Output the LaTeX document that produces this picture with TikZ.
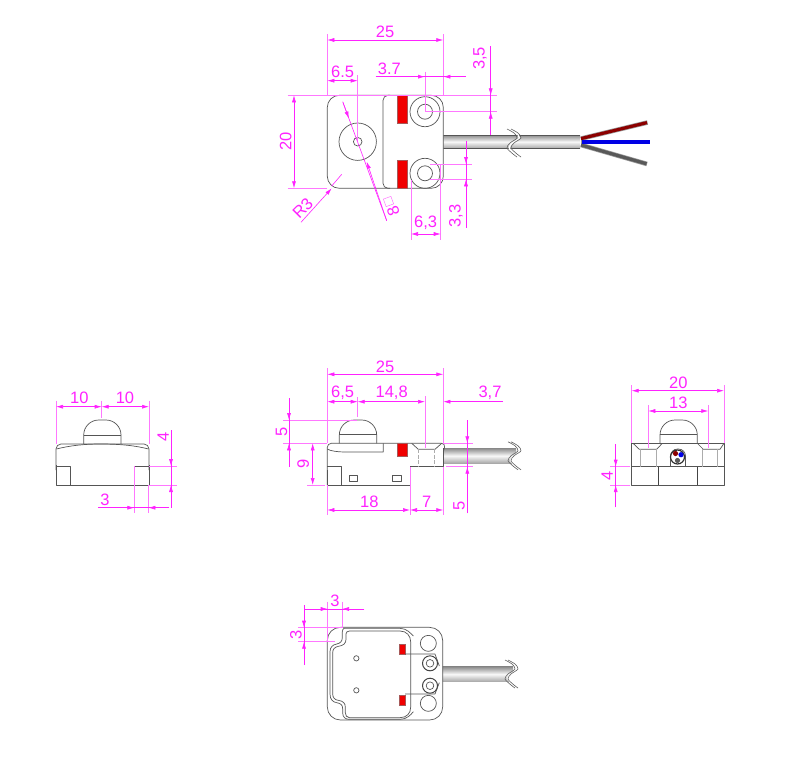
\documentclass[tikz,border=0pt]{standalone}
\usepackage{fontspec}
\setmainfont{Liberation Sans}
\usetikzlibrary{arrows.meta}
\definecolor{dimc}{HTML}{FF22FF}
\definecolor{extc}{HTML}{FF77FF}
\definecolor{outl}{HTML}{555555}
\definecolor{partred}{HTML}{F00000}
\tikzset{
  body/.style={draw=outl,line width=0.7pt,line join=round},
  thick body/.style={draw=outl!80!black,line width=1pt},
  faint/.style={draw=gray!65,line width=0.7pt},
  redpart/.style={fill=partred,draw=gray!70!red,line width=0.4pt},
  ext/.style={draw=extc,line width=0.6pt},
  dimboth/.style={draw=dimc,line width=0.6pt,{Latex[length=7pt,width=4pt]}-{Latex[length=7pt,width=4pt]}},
  dimto/.style={draw=dimc,line width=0.6pt,-{Latex[length=7pt,width=4pt]}},
  dtxt/.style={text=dimc,font=\fontsize{16.5}{18}\selectfont,inner sep=0pt},
  wire/.style={line width=4.6pt,line cap=butt,draw=gray!80},
  wirecore/.style={line width=3.2pt,line cap=butt},
  cable/.style={top color=gray!90,bottom color=gray!70,middle color=white!95!gray,shading angle=0},
}
\newcommand{\cablebreak}[2]{%
  \begin{scope}[shift={(#1,#2)}]
    \fill[white] plot[smooth] coordinates {(-4,-14)(3,-10)(6,-5)(-1,0)(-4,5)(2,11)(6,14)} -- (16,14) -- (16,-14) -- cycle;
    \draw[gray!75!black,line width=0.6pt] plot[smooth] coordinates {(-6,-14)(1,-10)(4,-5)(-3,0)(-6,5)(0,11)(4,14)};
    \draw[gray!75!black,line width=0.6pt] plot[smooth] coordinates {(-3,-14)(4,-10)(7,-5)(0,0)(-3,5)(3,11)(7,14)};
  \end{scope}}
\begin{document}
\begin{tikzpicture}[x=1pt,y=-1pt]
\useasboundingbox (0,0) rectangle (790,761);
\fill[white] (0,0) rectangle (790,761);

%% ===== TOP VIEW =====
\shade[cable] (443,135) rectangle (580,148.5);
\draw[outl,line width=0.4pt] (443,135) -- (580,135) (443,148.5) -- (580,148.5);
\fill[white] plot[smooth] coordinates {(508.5,129)(515.5,133)(518.5,138)(511.5,143)(508.5,148)(514.5,154)(518.5,157)} -- plot[smooth] coordinates {(520,157)(516,154)(510,148)(513,143)(520,138)(517,133)(510,129)} -- cycle;
\draw[gray!75!black,line width=0.6pt] plot[smooth] coordinates {(507,129)(514,133)(517,138)(510,143)(507,148)(513,154)(517,157)};
\draw[gray!75!black,line width=0.6pt] plot[smooth] coordinates {(511,129)(518,133)(521,138)(514,143)(511,148)(517,154)(521,157)};
\draw[wire] (581,145) -- (647,164);
\draw[wire] (581,138.6) -- (647.5,122.5);
\draw[wire] (581,142) -- (650,142);
\draw[wirecore,draw=black!65] (581,145) -- (646.5,163.8);
\draw[wirecore,draw=red!55!black] (581,138.6) -- (647,122.6);
\draw[wirecore,draw=blue!90!black] (582,142) -- (649.5,142);

\draw[body,fill=white,rounded corners=12pt] (327.3,95.3) -- (443.3,95.3) -- (443.3,188.3) -- (327.3,188.3) -- cycle;
\draw[body,rounded corners=5pt] (390,95.3) -- (383,95.3) -- (383,188.3) -- (390,188.3);
\draw[redpart] (397.3,95.3) rectangle (407.3,123.3);
\draw[redpart] (397.3,160) rectangle (407.3,188.3);
\draw[body] (425,111.7) circle[radius=15] (425,111.7) circle[radius=7.5];
\draw[body] (425,173.3) circle[radius=15] (425,173.3) circle[radius=7.5];
\draw[body] (357.7,141.7) circle[radius=18.7] (357.7,141.7) circle[radius=4.3];

% extensions
\draw[ext] (327.3,34) -- (327.3,95);
\draw[ext] (443.3,34) -- (443.3,95);
\draw[ext] (357.7,75) -- (357.7,141);
\draw[ext] (425,71.7) -- (425,111.7);
\draw[ext] (287.7,95.3) -- (496.7,95.3);
\draw[ext] (425,111.7) -- (496.7,111.7);
\draw[ext] (287.7,188.3) -- (327,188.3);
\draw[ext] (411,180) -- (411,240);
\draw[ext] (440.7,165) -- (440.7,240);
\draw[ext] (430,164) -- (472.3,164);
\draw[ext] (430,179.3) -- (472.3,179.3);
% dimensions
\draw[dimboth] (327.3,40) -- (443.3,40);
\node[dtxt] (t25) at (385,31.5) {25};
\draw[dimboth] (327.3,80.7) -- (357.7,80.7);
\node[dtxt] (t65) at (342.7,72) {6.5};
\draw[dimc,line width=0.6pt] (375.7,76.7) -- (465.7,76.7);
\draw[dimto] (400,76.7) -- (425,76.7);
\draw[dimto] (465.7,76.7) -- (443.3,76.7);
\node[dtxt] (t37) at (389.3,69) {3.7};
\draw[dimc,line width=0.6pt] (490.7,46) -- (490.7,135);
\draw[dimto] (490.7,70) -- (490.7,95.3);
\draw[dimto] (490.7,135) -- (490.7,111.7);
\node[dtxt,rotate=90] (t35) at (480,58.3) {3,5};
\draw[dimboth] (294,95.3) -- (294,188.3);
\node[dtxt,rotate=90] (t20) at (285.7,141.7) {20};
\draw[dimc,line width=0.6pt] (341.7,174.3) -- (331.7,186);
\draw[dimto] (301,222.3) -- (331.7,188.3);
\node[dtxt,rotate=45] (tr3) at (302.7,208.3) {R3};
\draw[dimc,line width=0.6pt] (342.7,101.7) -- (386.7,220.7);
\draw[dimto] (343,102.5) -- (348.9,118.5);
\draw[dimto] (386.7,220.7) -- (366.7,161.7);
\node[dtxt,rotate=110] (t8) at (393.3,211.5) {8};
\draw[draw=extc,line width=0.5pt,rotate around={20:(388.5,201.5)}] (384.5,197.5) rectangle (392.5,205.5);
\draw[dimboth] (411,234) -- (440.7,234);
\node[dtxt] (t63) at (425.7,223) {6,3};
\draw[dimc,line width=0.6pt] (466,140.7) -- (466,228.3);
\draw[dimto] (466,145) -- (466,164);
\draw[dimto] (466,200) -- (466,179.3);
\node[dtxt,rotate=90] (t33) at (456,215.7) {3,3};

%% ===== SIDE VIEW =====
\shade[cable] (443,448.3) rectangle (516,463.3);
\cablebreak{514}{455.8}
\draw[body,rounded corners=15pt] (339.3,443.3) -- (339.3,420) -- (376.7,420) -- (376.7,443.3);
\draw[body] (339.3,434) -- (376.7,434);
\draw[body,rounded corners=4pt] (327.3,485) -- (327.3,443.3) -- (445.5,443.3) -- (443.3,452);
\draw[body] (443.3,448) -- (443.3,466.7) -- (410,466.7) -- (410,485) -- (327.3,485) -- (327.3,470);
\draw[body] (383.3,443.3) -- (383.3,452) -- (345,452) .. controls (338,452) and (330,451) .. (327.3,449);
\draw[body] (327.3,466.7) -- (341.7,466.7) -- (341.7,485);
\draw[body] (349,475.7) rectangle (357.7,481.7);
\draw[body] (392.7,475.7) rectangle (401.3,481.7);
\draw[redpart] (397.3,443.3) rectangle (407.3,456);
\draw[body] (411.7,443.3) -- (418.3,449.3) -- (435,449.3) -- (441.7,443.3);
\draw[faint,dash pattern=on 4pt off 1.5pt] (418.3,449.3) -- (418.3,466.7) (434,449.3) -- (434,466.7);
\draw[ext] (327.3,368) -- (327.3,443);
\draw[ext] (443.3,368) -- (443.3,443);
\draw[ext] (357.7,397) -- (357.7,417);
\draw[ext] (425,396) -- (425,448);
\draw[ext] (327.3,485) -- (327.3,515);
\draw[ext] (410,467) -- (410,515);
\draw[ext] (443.3,467) -- (443.3,515);
\draw[ext] (283.3,420) -- (357,420);
\draw[ext] (283.3,443.3) -- (327,443.3);
\draw[ext] (307.3,485) -- (325,485);
\draw[ext] (443.3,443.3) -- (473.3,443.3);
\draw[ext] (446,466.7) -- (473.3,466.7);
\draw[dimboth] (327.3,374.3) -- (443.3,374.3);
\node[dtxt] (s25) at (385,366.5) {25};
\draw[dimboth] (327.3,401.7) -- (357.7,401.7);
\node[dtxt] (s65) at (342.7,392.3) {6,5};
\draw[dimboth] (357.7,401.7) -- (425,401.7);
\node[dtxt] (s148) at (391.7,392.3) {14,8};
\draw[dimto] (502.7,401.7) -- (443.3,401.7);
\node[dtxt] (s37) at (490,392.3) {3,7};
\draw[dimc,line width=0.6pt] (289,398.3) -- (289,466.7);
\draw[dimto] (289,398.3) -- (289,420);
\draw[dimto] (289,466.7) -- (289,443.3);
\node[dtxt,rotate=90] (s5a) at (281.5,431.7) {5};
\draw[dimboth] (312.7,443.3) -- (312.7,485);
\node[dtxt,rotate=90] (s9) at (303.3,464.3) {9};
\draw[dimboth] (327.3,510) -- (410,510);
\node[dtxt] (s18) at (369.3,501.7) {18};
\draw[dimboth] (410,510) -- (443.3,510);
\node[dtxt] (s7) at (426.7,501.7) {7};
\draw[dimc,line width=0.6pt] (467.3,420) -- (467.3,513.3);
\draw[dimto] (467.3,420) -- (467.3,443.3);
\draw[dimto] (467.3,513.3) -- (467.3,466.7);
\node[dtxt,rotate=90] (s5b) at (459,505.7) {5};

%% ===== LEFT VIEW =====
\draw[body,rounded corners=15pt] (83.7,444) -- (83.7,420) -- (121,420) -- (121,444);
\draw[body] (83.7,435) -- (121,435);
\draw[body,rounded corners=5pt] (56,470) -- (56,444) -- (149,444) -- (149,470);
\draw[body] (56,465) -- (56,485) -- (149,485) -- (149,465);
\draw[body] (56.5,449) .. controls (70,445.5) and (85,444) .. (100,444) .. controls (120,444) and (135,445.5) .. (148.5,449);
\draw[body] (56,466) -- (70,466) -- (70,485);
\draw[body] (149,466) -- (134.3,466) -- (134.3,485);
\draw[ext] (56,400.7) -- (56,444);
\draw[ext] (149,400.7) -- (149,444);
\draw[ext] (101.7,400.7) -- (101.7,417.7);
\draw[ext] (149,466) -- (177.3,466);
\draw[ext] (149,485) -- (177.3,485);
\draw[ext] (134.3,466) -- (134.3,513.3);
\draw[ext] (148.3,485) -- (148.3,513.3);
\draw[dimboth] (56,406.7) -- (101.7,406.7);
\draw[dimboth] (101.7,406.7) -- (149,406.7);
\node[dtxt] (l10a) at (79.3,398) {10};
\node[dtxt] (l10b) at (125,398) {10};
\draw[dimc,line width=0.6pt] (171,430) -- (171,507.7);
\draw[dimto] (171,435) -- (171,466);
\draw[dimto] (171,507.7) -- (171,485);
\node[dtxt,rotate=90] (l4) at (163.3,436.7) {4};
\draw[dimc,line width=0.6pt] (98.3,507.7) -- (169.3,507.7);
\draw[dimto] (110,507.7) -- (134.3,507.7);
\draw[dimto] (169.3,507.7) -- (148.3,507.7);
\node[dtxt] (l3) at (105,499.5) {3};

%% ===== RIGHT VIEW =====
\draw[body,rounded corners=15pt] (660,443.3) -- (660,420) -- (697.3,420) -- (697.3,443.3);
\draw[body] (660,434) -- (697.3,434);
\draw[body] (631.7,443.3) rectangle (724,485);
\draw[body] (631.7,466.7) -- (724,466.7);
\draw[thick body] (658.3,466.7) -- (658.3,485);
\draw[thick body] (697.3,466.7) -- (697.3,485);
\draw[body] (633,443.3) -- (639.3,449.3) -- (656.7,449.3) -- (662.3,443.3);
\draw[body] (697.3,443.3) -- (703.3,449.3) -- (720,449.3) -- (724,443.3);
\draw[faint] (640,449.3) -- (640,466.7) (656,449.3) -- (656,466.7);
\draw[faint] (702,449.3) -- (702,466.7) (717,449.3) -- (717,466.7);
\draw[body,rounded corners=7pt] (670.5,466.7) -- (670.5,449) -- (685.5,449) -- (685.5,466.7);
\draw[draw=black!80,line width=1.2pt,fill=white] (677.5,457) circle[radius=7];
\fill[red!55!black] (675.5,453.5) circle[radius=2.6];
\fill[blue!90!black] (681,454.7) circle[radius=2.6];
\fill[black!65] (677.5,460.5) circle[radius=2.6];
\draw[ext] (631.7,385) -- (631.7,443);
\draw[ext] (724,385) -- (724,443);
\draw[ext] (648.3,405) -- (648.3,448);
\draw[ext] (708.3,405) -- (708.3,448);
\draw[ext] (610,466.7) -- (630,466.7);
\draw[ext] (610,485) -- (630,485);
\draw[dimboth] (631.7,390.7) -- (724,390.7);
\node[dtxt] (r20) at (678.3,383) {20};
\draw[dimboth] (648.3,411) -- (708.3,411);
\node[dtxt] (r13) at (678.3,403) {13};
\draw[dimc,line width=0.6pt] (615.7,444) -- (615.7,507.3);
\draw[dimto] (615.7,444) -- (615.7,466.7);
\draw[dimto] (615.7,507.3) -- (615.7,485);
\node[dtxt,rotate=90] (r4) at (607.3,476) {4};

%% ===== BOTTOM VIEW =====
\shade[cable] (438.3,666.7) rectangle (513,681.7);
\cablebreak{511}{674}
\begin{scope}[shift={(320,620)},scale=1/3]
  \draw[body,rounded corners=13pt,fill=white] (22,22) -- (368,22) -- (368,300) -- (22,300) -- cycle;
  % inner contour
  \draw[body] (88,33) -- (240,33) .. controls (260,33) and (272,48) .. (272,65) -- (272,262) .. controls (272,280) and (260,293) .. (240,293) -- (88,293) .. controls (80,293) and (76,286) .. (76,278) -- (76,262) .. controls (76,250) and (70,243) .. (55,241) .. controls (44,240) and (38,232) .. (38,222) -- (38,98) .. controls (38,88) and (44,81) .. (55,79) .. controls (70,77) and (78,70) .. (78,58) -- (78,42) .. controls (78,37) and (82,33) .. (88,33);
  % outer contour
  \draw[body] (72,25) -- (240,25) .. controls (260,25) and (272,40) .. (280,48) (280,275) .. controls (272,285) and (260,298) .. (240,298) -- (88,298) .. controls (76,298) and (68,292) .. (68,278) -- (68,266) .. controls (68,255) and (62,250) .. (50,248) .. controls (38,246) and (30,238) .. (30,222) -- (30,95) .. controls (30,82) and (38,74) .. (50,72) .. controls (60,70) and (67,65) .. (67,52) -- (67,35) .. controls (67,30) and (70,25) .. (72,25);
  \draw[redpart] (237,72) rectangle (255,102);
  \draw[redpart] (237,225) rectangle (255,255);
  \draw[body] (255,102) -- (345,102) -- (358,138);
  \draw[body] (255,222) -- (345,222) -- (358,188);
  \draw[body] (325,70) circle[radius=24];
  \draw[body] (325,250) circle[radius=24];
  \draw[body] (109,115) circle[radius=8];
  \draw[body] (109,211) circle[radius=8];
\end{scope}
\draw[thick body,fill=white] (430,663.3) circle[radius=7.5];
\draw[body,fill=white] (430,663.3) circle[radius=3.8];
\draw[thick body,fill=white] (430,685.7) circle[radius=7.5];
\draw[body,fill=white] (430,685.7) circle[radius=3.8];
\draw[ext] (327.7,601.7) -- (327.7,641.7);
\draw[ext] (342,601.7) -- (342,627.7);
\draw[ext] (298,627.7) -- (342,627.7);
\draw[ext] (298,641.7) -- (335,641.7);
\draw[dimc,line width=0.6pt] (304,609) -- (364.3,609);
\draw[dimto] (304,609) -- (327.7,609);
\draw[dimto] (364.3,609) -- (342,609);
\node[dtxt] (b3a) at (335,600.5) {3};
\draw[dimc,line width=0.6pt] (304,605) -- (304,665);
\draw[dimto] (304,605) -- (304,627.7);
\draw[dimto] (304,665) -- (304,641.7);
\node[dtxt,rotate=90] (b3b) at (296,635) {3};
\end{tikzpicture}
\end{document}
